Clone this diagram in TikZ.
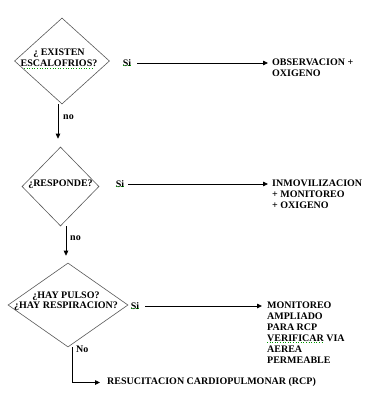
\documentclass[tikz,border=0pt]{standalone}
\usepackage{fontspec}
\setmainfont{Liberation Serif}
\usetikzlibrary{arrows.meta,shapes.geometric}
\begin{document}
\begin{tikzpicture}[x=1pt,y=-1pt,
  every node/.style={font=\fontsize{10}{11}\selectfont\bfseries, inner sep=0pt, text=black},
  decision/.style={draw=black!65, line width=0.6pt, diamond, inner sep=0pt},
  arr/.style={draw=black, line width=0.8pt, -{Triangle[length=5pt,width=4.5pt]}},
  sq/.style={draw=green!60!black, line width=0.6pt, dotted}]
\useasboundingbox (0,0) rectangle (375,398);
\fill[white] (0,0) rectangle (375,398);

% decision 1
\node[decision, minimum width=95pt, minimum height=86pt] (d1) at (62,61) {};
\node[align=center] (t1) at (59,57.5) {¿ EXISTEN\\ESCALOFRIOS?};
\node (si1) at (127,63) {Si};
\node[anchor=north west, align=left] (r1) at (272,59) {OBSERVACION +\\OXIGENO};
\draw[arr] ([xshift=6pt]si1.east) -- ([xshift=-4pt]r1.west |- si1);
\node[anchor=west] (no1) at (63,117) {no};

% decision 2
\node[decision, minimum width=77pt, minimum height=79pt] (d2) at (60.5,186.5) {};
\node (t2) at (60.5,184) {¿RESPONDE?};
\node (si2) at (120,184) {Si};
\node[anchor=north west, align=left] (r2) at (272,179.5) {INMOVILIZACION\\+ MONITOREO\\+ OXIGENO};
\draw[arr] ([xshift=4pt]si2.east) -- ([xshift=-4pt]r2.west |- si2);
\node[anchor=west] (no2) at (70,238) {no};

% decision 3
\node[decision, minimum width=120pt, minimum height=84pt] (d3) at (68,305) {};
\node[align=center, font=\fontsize{10}{10}\selectfont\bfseries] (t3) at (66,301) {¿HAY PULSO?\\¿HAY RESPIRACION?};
\node (si3) at (135,306) {Si};
\node[anchor=north west, align=left] (r3) at (267,301.5) {MONITOREO\\AMPLIADO\\PARA RCP\\VERIFICAR VIA\\AEREA\\PERMEABLE};
\draw[arr] ([xshift=6pt]si3.east) -- ([xshift=-5pt]r3.west |- si3);
\node[anchor=west] (rcp) at (107,382.5) {RESUCITACION CARDIOPULMONAR (RCP)};
\draw[arr, shorten >=7pt] ([xshift=4pt]d3.south) |- (rcp.west);
\node[anchor=west] (no3) at (76,349) {No};

% vertical "no" connectors
\draw[arr, shorten >=8pt] ([xshift=-4pt]d1.south) -- ([xshift=-4pt]d1.south |- d2.north);
\draw[arr, shorten >=7pt] ([xshift=5.5pt]d2.south) -- ([xshift=5.5pt]d2.south |- d3.north);

% spell-check underlines
\draw[sq] (24,68) -- (94,68);
\draw[sq] ([yshift=1.5pt]si1.south west) -- ([yshift=1.5pt]si1.south east);
\draw[sq] ([yshift=1.5pt]si2.south west) -- ([yshift=1.5pt]si2.south east);
\draw[sq] ([yshift=1.5pt]si3.south west) -- ([yshift=1.5pt]si3.south east);
\draw[sq] (267,342) -- (322,342);
\end{tikzpicture}
\end{document}
